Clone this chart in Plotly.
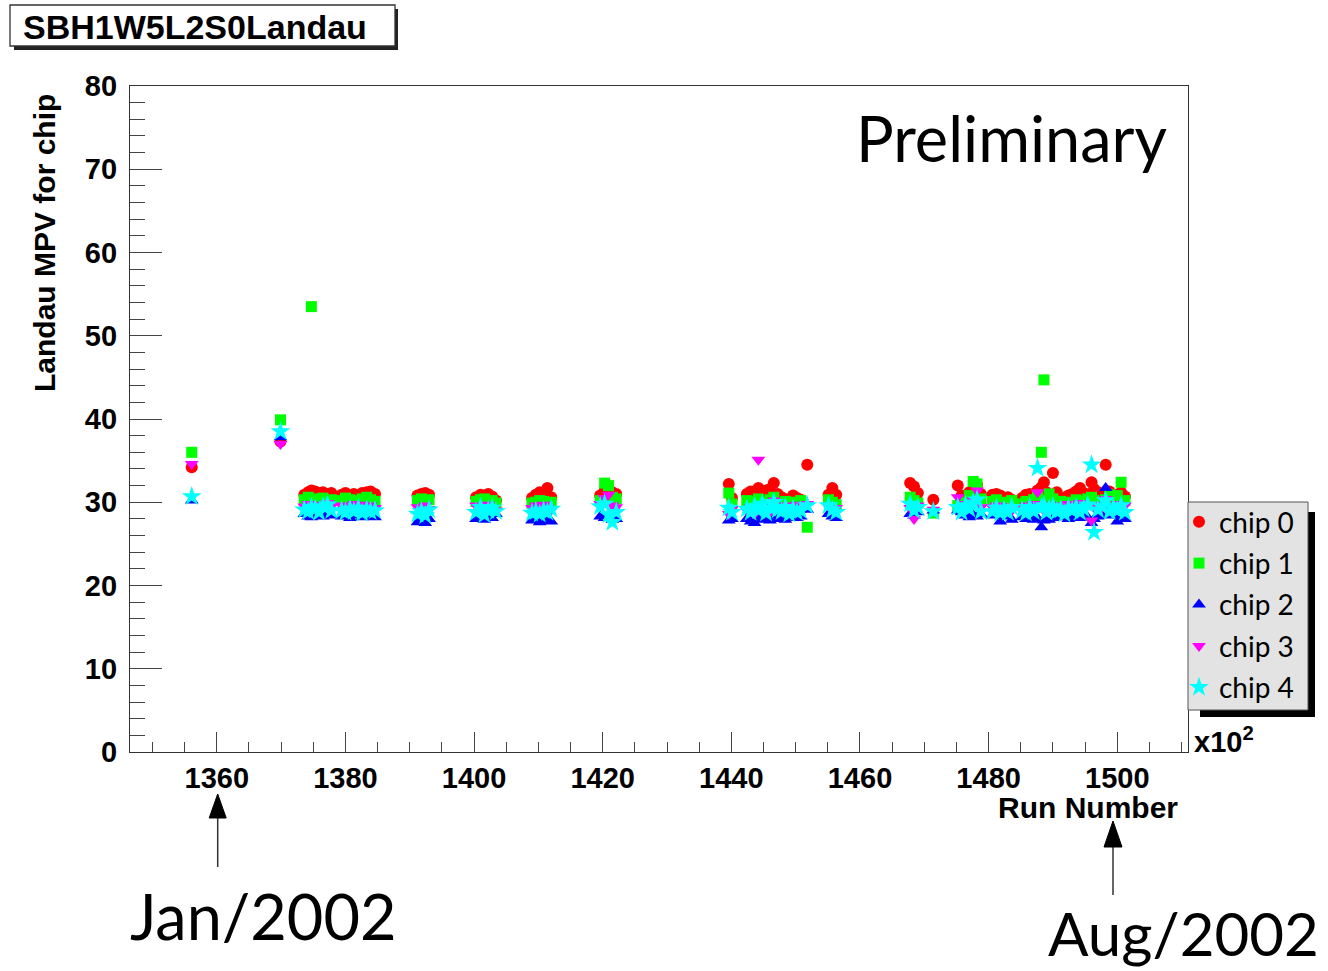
import plotly.graph_objects as go

# ---------------- data (run number in units of 10^2, Landau MPV per chip) ----------------
runs = [1356.1,
        1369.9,
        1373.6, 1374.2, 1374.7, 1375.3, 1375.9, 1376.5, 1377.2, 1377.8,
        1379.4, 1380.0, 1380.7, 1381.3, 1382.0, 1382.6, 1383.3, 1383.9, 1384.6,
        1391.2, 1391.8, 1392.4, 1393.0,
        1400.3, 1401.0, 1401.6, 1402.2, 1402.8, 1403.4,
        1409.0, 1409.6, 1410.2, 1410.8, 1411.4, 1412.0,
        1419.6, 1420.3, 1420.9, 1421.5, 1422.1,
        1439.6, 1440.1,
        1442.4, 1443.0, 1443.6, 1444.2, 1444.8, 1445.4, 1446.0, 1446.6, 1447.2, 1447.8,
        1448.4, 1449.0, 1449.6, 1450.2, 1450.8, 1451.8,
        1455.1, 1455.7, 1456.3,
        1467.8, 1468.4, 1469.0,
        1471.4,
        1475.2, 1475.8, 1476.4, 1477.0, 1477.6, 1478.2, 1478.8,
        1480.6, 1481.2, 1481.8, 1482.4, 1483.0, 1483.6,
        1485.2, 1485.8, 1486.4, 1487.0, 1487.6, 1488.2, 1488.6, 1489.0, 1489.4, 1490.0,
        1490.6, 1491.2, 1491.8, 1492.4, 1493.0, 1493.6, 1494.2, 1494.8, 1495.4, 1496.0,
        1496.4, 1497.0, 1497.6, 1498.2, 1498.8, 1499.4, 1500.0, 1500.6, 1501.2]

chip0 = [34.2,
         37.3,
         30.9, 31.2, 31.4, 31.3, 31.1, 31.2, 31.0, 31.1,
         30.9, 31.1, 30.8, 31.0, 30.7, 31.1, 31.2, 31.3, 31.0,
         30.8, 31.0, 31.1, 30.9,
         30.6, 30.9, 30.8, 31.0, 30.7, 30.2,
         30.5, 30.9, 31.2, 31.0, 31.7, 30.6,
         30.8, 31.4, 31.6, 31.2, 31.0,
         32.2, 30.5,
         31.0, 31.3, 30.8, 31.7, 31.1, 31.4, 31.6, 32.3, 31.0, 30.6,
         30.4, 30.2, 30.8, 30.5, 30.3, 34.5,
         30.9, 31.7, 30.9,
         32.3, 31.9, 31.1,
         30.3,
         32.0, 30.8, 30.4, 31.2, 31.5, 32.1, 31.0,
         30.9, 31.0, 30.8, 30.5, 30.6, 30.3,
         30.5, 30.9, 31.0, 30.6, 31.4, 31.8, 32.4, 31.2, 30.9, 33.5,
         31.2, 30.4, 30.5, 30.8, 31.0, 31.3, 31.7, 31.1, 30.9, 32.4,
         31.6, 31.2, 30.8, 34.5, 31.3, 30.6, 30.9, 31.2, 30.7]

chip1 = [36.0,
         39.9,
         30.3, 30.6, 53.5, 30.4, 30.2, 30.5, 30.1, 30.3,
         30.2, 30.5, 30.3, 30.0, 30.2, 30.4, 30.6, 30.3, 30.1,
         30.2, 30.4, 30.1, 30.3,
         30.1, 30.3, 30.4, 30.0, 30.2, 29.9,
         29.9, 30.0, 30.2, 30.1, 29.8, 30.0,
         30.2, 32.3, 32.0, 30.6, 30.4,
         31.1, 29.8,
         30.2, 29.8, 30.1, 30.4, 30.0, 29.9, 30.3, 30.6, 29.7, 29.9,
         30.1, 29.8, 30.0, 29.6, 30.2, 27.0,
         30.3, 30.0, 29.7,
         30.6, 30.2, 29.9,
         28.7,
         29.6, 29.2, 30.0, 30.8, 32.5, 32.2, 30.4,
         30.1, 30.3, 29.9, 30.0, 29.8, 30.2,
         29.8, 30.1, 29.6, 30.3, 30.6, 36.0, 44.7, 30.2, 31.0, 30.4,
         29.9, 30.1, 29.7, 30.0, 29.8, 30.3, 30.1, 29.9, 30.4, 30.6,
         30.2, 29.8, 30.0, 30.3, 30.9, 30.5, 30.8, 32.4, 30.2]

chip2 = [30.2,
         37.8,
         28.6, 28.3, 28.2, 28.5, 28.4, 28.3, 28.6, 28.4,
         28.3, 28.5, 28.1, 28.4, 28.6, 28.2, 28.3, 28.5, 28.2,
         27.6, 27.8, 27.5, 28.0,
         28.0, 28.2, 27.9, 28.3, 28.1, 28.6,
         27.8, 27.9, 27.6, 27.8, 28.0, 27.7,
         28.3, 28.1, 28.4, 27.9, 28.0,
         27.8, 28.0,
         28.0, 27.7, 27.5, 28.1, 27.9, 28.2, 27.8, 28.4, 28.0, 28.3,
         27.9, 28.2, 28.5, 28.1, 28.3, 29.1,
         28.6, 28.3, 28.1,
         28.6, 28.4, 28.8,
         29.0,
         29.0, 28.8, 28.4, 28.2, 28.5, 28.3, 28.6,
         28.4, 28.6, 27.7, 28.3, 28.5, 27.9,
         28.2, 28.0, 28.4, 27.9, 28.1, 27.0, 27.8, 28.3, 27.9, 28.1,
         28.4, 28.2, 28.5, 28.0, 28.3, 28.6, 28.1, 28.4, 28.2, 27.5,
         28.0, 28.3, 28.5, 31.7, 28.4, 28.6, 27.7, 28.2, 28.0]

chip3 = [34.6,
         37.0,
         29.5, 29.8, 29.6, 29.3, 29.7, 29.4, 29.9, 29.5,
         29.6, 29.3, 29.5, 29.8, 29.4, 29.7, 29.5, 29.6, 29.3,
         29.4, 29.3, 29.6, 29.2,
         29.6, 29.2, 29.4, 29.7, 29.3, 29.0,
         29.3, 29.6, 29.5, 29.7, 29.4, 29.1,
         29.8, 30.5, 30.9, 29.6, 29.4,
         28.6, 29.2,
         29.0, 29.4, 28.6, 35.1, 29.2, 29.5, 28.8, 30.2, 29.3, 29.0,
         29.6, 29.4, 29.1, 29.7, 29.5, 29.8,
         29.5, 29.0, 29.3,
         29.3, 28.0, 29.6,
         29.1,
         30.6, 29.2, 29.8, 29.5, 30.2, 31.4, 29.4,
         29.4, 29.6, 29.2, 29.5, 29.3, 29.0,
         29.3, 29.6, 29.1, 29.8, 31.2, 29.4, 29.0, 29.5, 29.7, 29.2,
         29.6, 29.4, 29.1, 29.8, 29.3, 29.5, 29.9, 29.2, 29.6, 27.8,
         29.4, 29.7, 29.3, 30.4, 29.1, 29.5, 29.8, 29.4, 29.6]

chip4 = [30.7,
         38.5,
         29.1, 28.9, 29.4, 29.2, 28.8, 29.5, 29.7, 29.0,
         29.0, 28.8, 29.2, 28.9, 29.3, 28.7, 29.1, 28.9, 29.0,
         28.6, 28.9, 28.4, 29.1,
         28.8, 29.4, 28.5, 29.0, 29.3, 28.9,
         28.7, 28.9, 28.6, 29.0, 28.8, 29.2,
         29.5, 29.8, 28.5, 27.6, 28.8,
         29.3, 28.8,
         29.2, 28.8, 29.5, 29.0, 29.8, 28.7, 29.3, 30.0, 29.1, 28.9,
         29.4, 28.6, 29.2, 28.8, 29.0, 29.6,
         29.6, 29.1, 28.8,
         29.8, 29.0, 29.4,
         28.9,
         29.4, 28.8, 29.6, 29.2, 29.9, 30.3, 28.9,
         28.9, 29.3, 28.7, 29.1, 28.8, 29.4,
         29.0, 28.7, 29.4, 28.9, 34.1, 29.3, 29.6, 28.8, 29.2, 29.5,
         28.9, 29.1, 28.6, 29.3, 29.0, 29.4, 28.8, 29.2, 29.7, 34.5,
         26.4, 29.1, 29.5, 30.2, 28.9, 29.3, 29.0, 29.6, 28.8]

series_names = ["chip 0", "chip 1", "chip 2", "chip 3", "chip 4"]
series_values = [chip0, chip1, chip2, chip3, chip4]

x_range = [1346.5, 1511.0]
y_range = [0, 80]
x_ticks = [1360, 1380, 1400, 1420, 1440, 1460, 1480, 1500]
y_ticks = [0, 10, 20, 30, 40, 50, 60, 70, 80]

# ---------------- styles ----------------
colors = ["#ff0000", "#00ff00", "#0000ff", "#ff00ff", "#00ffff"]
symbols = ["circle", "square", "triangle-up", "triangle-down", "star"]
sizes = [12, 11, 12, 12, 15]

W, H = 1328, 971
ML, MR, MT, MB = 130, 140, 86, 219
PW, PH = W - ML - MR, H - MT - MB


def px(xp):
    return (xp - ML) / PW


def py(yp):
    return (H - MB - yp) / PH


fig = go.Figure()
for name, vals, c, s, sz in zip(series_names, series_values, colors, symbols, sizes):
    fig.add_trace(go.Scatter(
        x=runs, y=vals, mode="markers", name=name, legendgroup=name,
        marker=dict(color=c, symbol=s, size=sz, line=dict(width=0)),
    ))

axis_font = dict(family="Liberation Sans, Arial, sans-serif", size=29, color="black", weight="bold")

fig.update_layout(
    width=W, height=H,
    margin=dict(l=ML, r=MR, t=MT, b=MB, pad=0),
    paper_bgcolor="white", plot_bgcolor="white",
    showlegend=True,
    legend=dict(
        x=px(1179), y=py(497), xanchor="left", yanchor="top",
        bgcolor="rgba(0,0,0,0)", borderwidth=0,
        font=dict(family="Lato, sans-serif", size=28, color="black"),
        tracegroupgap=2, itemsizing="trace",
    ),
    xaxis=dict(
        range=x_range, tickmode="array", tickvals=x_ticks,
        ticktext=[str(t) for t in x_ticks],
        ticks="inside", ticklen=20, tickwidth=1.3, tickcolor="#444",
        showline=True, linecolor="#333", linewidth=1.3, mirror=True,
        showgrid=False, zeroline=False, tickfont=axis_font,
        ticklabelstandoff=0,
        minor=dict(ticks="inside", ticklen=10, dtick=5, tick0=1360,
                   tickcolor="#444", tickwidth=1.3, showgrid=False),
    ),
    yaxis=dict(
        range=y_range, tickmode="array", tickvals=y_ticks,
        ticktext=[str(t) for t in y_ticks],
        ticks="inside", ticklen=32, tickwidth=1.3, tickcolor="#444",
        showline=True, linecolor="#333", linewidth=1.3, mirror=True,
        showgrid=False, zeroline=False, tickfont=axis_font,
        ticklabelstandoff=6,
        minor=dict(ticks="inside", ticklen=15, dtick=2, tick0=0,
                   tickcolor="#444", tickwidth=1.3, showgrid=False),
    ),
)

shapes = []
# title box shadow and box
shapes.append(dict(type="rect", xref="paper", yref="paper",
                   x0=px(14), x1=px(398), y0=py(9), y1=py(50),
                   fillcolor="#222", line=dict(width=0), layer="above"))
shapes.append(dict(type="rect", xref="paper", yref="paper",
                   x0=px(10), x1=px(395), y0=py(5), y1=py(46),
                   fillcolor="white", line=dict(color="#333", width=1.3), layer="above"))
# legend shadow and box
shapes.append(dict(type="rect", xref="paper", yref="paper",
                   x0=px(1200), x1=px(1315), y0=py(512), y1=py(717),
                   fillcolor="black", line=dict(width=0), layer="above"))
shapes.append(dict(type="rect", xref="paper", yref="paper",
                   x0=px(1188), x1=px(1308), y0=py(502), y1=py(710),
                   fillcolor="#e3e3e3", line=dict(color="#555", width=1), layer="above"))
# arrows
for (xa, tip, base, tail, hw) in [(217.7, 794, 818, 867, 8.5), (1113, 821, 847, 895, 9)]:
    shapes.append(dict(type="line", xref="paper", yref="paper",
                       x0=px(xa), x1=px(xa), y0=py(base), y1=py(tail),
                       line=dict(color="#333", width=1.5)))
    path = "M {a},{b} L {c},{d} L {e},{f} Z".format(
        a=px(xa), b=py(tip), c=px(xa - hw), d=py(base), e=px(xa + hw), f=py(base))
    shapes.append(dict(type="path", xref="paper", yref="paper", path=path,
                       fillcolor="black", line=dict(color="black", width=1)))
fig.update_layout(shapes=shapes)

ann = []
ann.append(dict(text="SBH1W5L2S0Landau", xref="paper", yref="paper",
                x=px(21), y=py(27), xanchor="left", yanchor="middle", showarrow=False,
                font=dict(family="Liberation Sans, Arial", size=34, color="black", weight="bold")))
ann.append(dict(text="Landau MPV for chip", xref="paper", yref="paper",
                x=px(44), y=py(92), xanchor="center", yanchor="top", textangle=-90,
                showarrow=False,
                font=dict(family="Liberation Sans, Arial", size=30, color="black", weight="bold")))
ann.append(dict(text="Run Number", xref="paper", yref="paper",
                x=px(1180), y=py(807), xanchor="right", yanchor="middle", showarrow=False,
                font=dict(family="Liberation Sans, Arial", size=30, color="black", weight="bold")))
ann.append(dict(text="x10<sup>2</sup>", xref="paper", yref="paper",
                x=px(1192), y=py(740), xanchor="left", yanchor="middle", showarrow=False,
                font=dict(family="Liberation Sans, Arial", size=29, color="black", weight="bold")))
ann.append(dict(text="Preliminary", xref="paper", yref="paper",
                x=px(1169), y=py(137), xanchor="right", yanchor="middle", showarrow=False,
                font=dict(family="Lato, sans-serif", size=63, color="black")))
ann.append(dict(text="Jan/2002", xref="paper", yref="paper",
                x=px(128), y=py(915), xanchor="left", yanchor="middle", showarrow=False,
                font=dict(family="Lato, sans-serif", size=63, color="black")))
ann.append(dict(text="Aug/2002", xref="paper", yref="paper",
                x=px(1046), y=py(933), xanchor="left", yanchor="middle", showarrow=False,
                font=dict(family="Lato, sans-serif", size=60, color="black")))
fig.update_layout(annotations=ann)

fig.write_html("out.html")
